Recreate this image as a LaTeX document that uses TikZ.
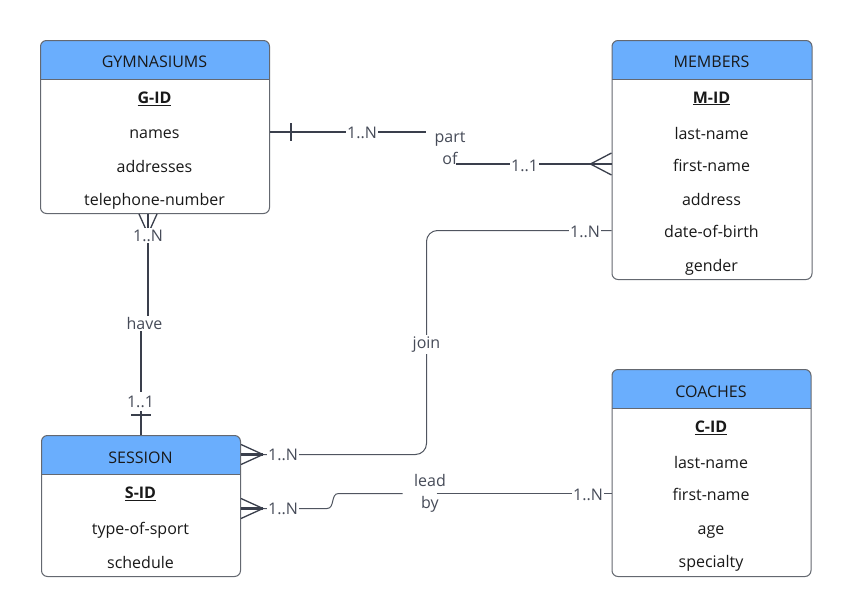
\documentclass[tikz,border=0pt]{standalone}
\usepackage{fontspec}
\setmainfont{Open Sans}
\usetikzlibrary{calc}
\definecolor{hdr}{RGB}{106,174,253}
\definecolor{bord}{RGB}{100,104,112}
\definecolor{ink}{RGB}{58,63,76}
\definecolor{thinc}{RGB}{80,85,96}
\definecolor{lblc}{RGB}{70,75,88}
\begin{document}
\begin{tikzpicture}[x=1pt,y=-1pt,
  font=\fontsize{16}{22}\selectfont,
  entity/.style={draw=bord, line width=1pt, rounded corners=6pt, fill=white,
    anchor=north west, inner sep=0pt,
    path picture={
      \fill[hdr, sharp corners] (path picture bounding box.north west) rectangle ([yshift=-39pt]path picture bounding box.north east);
      \draw[bord, line width=1pt, sharp corners] ([yshift=-39pt]path picture bounding box.north west) -- ([yshift=-39pt]path picture bounding box.north east);
    }},
  ttl/.style={anchor=mid, yshift=-3.5pt, text=black!90, inner sep=0pt},
  rowtxt/.style={anchor=mid, yshift=-3.5pt, text=black!90, inner sep=0pt},
  lbl/.style={anchor=mid, yshift=-3.5pt, fill=white, text=lblc, inner sep=1.5pt},
  lbltxt/.style={text=lblc, align=center, inner sep=0pt},
  thickconn/.style={draw=ink, line width=2pt},
  thinconn/.style={draw=thinc, line width=1pt},
  crow/.style={draw=ink, line width=1.3pt}
]
\useasboundingbox[fill=white] (0,0) rectangle (852,616);

% ---------- entities ----------
\node[entity, minimum width=229pt, minimum height=173pt] (gym) at (40,40) {};
\node[ttl] (gym-t) at (154.5,61) {GYMNASIUMS};
\node[rowtxt] (gym-id) at (154.5,97) {\underline{\textbf{G-ID}}};
\node[rowtxt] (gym-names) at (154.5,132.5) {names};
\node[rowtxt] (gym-addr) at (154.5,166) {addresses};
\node[rowtxt] (gym-tel) at (154.5,199) {telephone-number};

\node[entity, minimum width=200pt, minimum height=239pt] (mem) at (611.5,40) {};
\node[ttl] (mem-t) at (711.5,61) {MEMBERS};
\node[rowtxt] (mem-id) at (711.5,97) {\underline{\textbf{M-ID}}};
\node[rowtxt] (mem-last) at (711.5,133) {last-name};
\node[rowtxt] (mem-first) at (711.5,165) {first-name};
\node[rowtxt] (mem-addr) at (711.5,199) {address};
\node[rowtxt] (mem-dob) at (711.5,231) {date-of-birth};
\node[rowtxt] (mem-gender) at (711.5,265) {gender};

\node[entity, minimum width=199pt, minimum height=207pt] (coach) at (611.5,369) {};
\node[ttl] (coach-t) at (711,391) {COACHES};
\node[rowtxt] (coach-id) at (711,426) {\underline{\textbf{C-ID}}};
\node[rowtxt] (coach-last) at (711,462) {last-name};
\node[rowtxt] (coach-first) at (711,494) {first-name};
\node[rowtxt] (coach-age) at (711,528) {age};
\node[rowtxt] (coach-spec) at (711,561) {specialty};

\node[entity, minimum width=199pt, minimum height=141pt] (sess) at (41,435) {};
\node[ttl] (sess-t) at (140.5,457) {SESSION};
\node[rowtxt] (sess-id) at (140.5,492) {\underline{\textbf{S-ID}}};
\node[rowtxt] (sess-type) at (140.5,528) {type-of-sport};
\node[rowtxt] (sess-sched) at (140.5,562) {schedule};

% ---------- anchor points ----------
\coordinate (g1) at (gym.east |- 0,132);
\coordinate (m1) at (mem.west |- 0,164);
\coordinate (m2) at (mem.west |- 0,230.5);
\coordinate (c1) at (coach.west |- 0,493.5);
\coordinate (s1) at ([yshift=-19.5pt]sess.north east);
\coordinate (s2) at ([yshift=-73.5pt]sess.north east);
\coordinate (gB) at ([xshift=-7pt]gym.south);
\coordinate (pofA) at ($(g1)+(156,0)$);
\coordinate (pofB) at ($(m1)+(-156,0)$);
\coordinate (lbA) at ($(c1)+(-209,0)$);
\coordinate (lbB) at ($(c1)+(-175,0)$);
\coordinate (jx) at (426.5,342);

% ---------- GYMNASIUMS -- MEMBERS (part of) ----------
\draw[thickconn] (g1) -- (pofA);
\draw[thickconn] ([shift={(21,-9)}]g1) -- ([shift={(21,9)}]g1);
\draw[thickconn] (pofB) -- (m1);
\draw[crow] ([shift={(0,-11)}]m1) -- ([shift={(-21,0)}]m1) -- ([shift={(0,11)}]m1);
\node[lbl] (l-gm) at (362,132.5) {1..N};
\node[lbl] (l-mg) at (524.5,165) {1..1};
\node[lbltxt] (partof) at (450,148.5) {part\\of};

% ---------- GYMNASIUMS -- SESSION (have) ----------
\coordinate (hv) at (144.5,323);
\draw[thickconn] (gB) -- (gB |- hv) -- (sess.north |- hv) -- (sess.north);
\draw[crow] ([shift={(-9,0)}]gB) -- ([shift={(0,20)}]gB) -- ([shift={(9,0)}]gB);
\node[lbl] (have) at (hv) {have};
\node[lbl] (l-gs) at (148,235) {1..N};
\node[lbl, inner ysep=4pt] (l-sg) at (140.5,401) {1..1};
\draw[thickconn] ([shift={(-10,-20)}]sess.north) -- ([shift={(10,-20)}]sess.north);

% ---------- MEMBERS -- SESSION (join) ----------
\draw[thinconn, rounded corners=11pt] (m2) -- (m2 -| jx) -- (s1 -| jx) -- (s1);
\draw[draw=ink, line width=3pt] (s1) -- ([shift={(22,0)}]s1);
\draw[crow] ([shift={(0,-10)}]s1) -- ([shift={(22,0)}]s1) -- ([shift={(0,10)}]s1);
\node[lbl] (join) at (jx) {join};
\node[lbl] (l-ms) at (585,231) {1..N};
\node[lbl] (l-sm) at (283,454) {1..N};

% ---------- SESSION -- COACHES (lead by) ----------
\draw[thinconn] (s2) -- ($(s2)+(86,0)$) .. controls ($(s2)+(94,0)$) and ($(lbA)+(-72,0)$) .. ($(lbA)+(-64,0)$) -- (lbA);
\draw[thinconn] (lbB) -- (c1);
\draw[draw=ink, line width=3pt] (s2) -- ([shift={(22,0)}]s2);
\draw[crow] ([shift={(0,-10)}]s2) -- ([shift={(22,0)}]s2) -- ([shift={(0,10)}]s2);
\node[lbltxt] (leadby) at (430,493.5) {lead\\by};
\node[lbl] (l-sc) at (283,508) {1..N};
\node[lbl] (l-cs) at (588,494) {1..N};
\end{tikzpicture}
\end{document}
